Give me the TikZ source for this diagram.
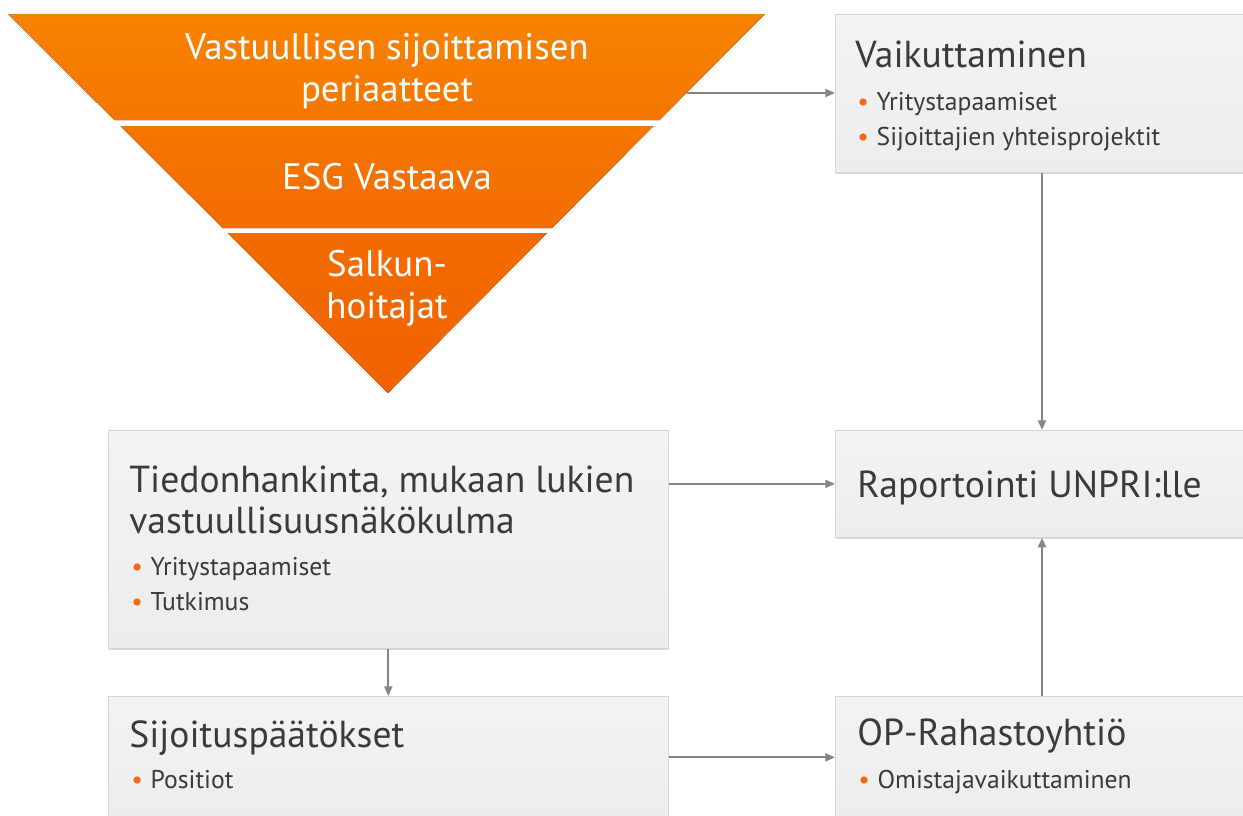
\documentclass[tikz,border=0pt]{standalone}
\usepackage{fontspec}
\setmainfont{PT Sans}
\usetikzlibrary{arrows.meta,shadows}

\definecolor{ortop}{HTML}{F78300}
\definecolor{ormid}{HTML}{F57600}
\definecolor{orlow}{HTML}{F36C00}
\definecolor{orbot}{HTML}{F06200}
\definecolor{boxtop}{HTML}{F3F3F3}
\definecolor{boxbot}{HTML}{EDEDED}
\definecolor{boxline}{HTML}{D6D6D6}
\definecolor{txt}{HTML}{3A3A3A}
\definecolor{arrc}{HTML}{858585}
\definecolor{dotc}{HTML}{F26A10}

\newcommand\blt{\makebox[11pt][l]{\textcolor{dotc}{\textbullet}}}

\begin{document}
\begin{tikzpicture}[
x=0.02cm,y=-0.02cm,
box/.style={rectangle,draw=boxline,top color=boxtop,bottom color=boxbot,anchor=north west,inner sep=0pt,
  drop shadow={shadow xshift=0.5pt,shadow yshift=-1.2pt,opacity=0.3}},
title/.style={anchor=base west,inner sep=0pt,text=txt,font=\fontsize{21.4}{24}\selectfont},
item/.style={anchor=base west,inner sep=0pt,text=txt,font=\fontsize{14.6}{17}\selectfont},
level/.style={text=white,align=center,inner sep=0pt,font=\fontsize{21}{24}\selectfont},
channel/.style={draw=arrc,line width=1.2pt,-{Triangle[length=5.5pt,width=4.5pt]}}
]
\useasboundingbox (0,0) rectangle (1243,815);

% Inverted triangle in three bands
\fill[top color=ortop,bottom color=ormid] (8,14) -- (765,14) -- (659.6,120) -- (114.3,120) -- cycle;
\fill[top color=ormid,bottom color=orlow] (120.3,126) -- (653.6,126) -- (552.1,228) -- (222.6,228) -- cycle;
\fill[top color=orlow,bottom color=orbot] (227.6,233) -- (547.2,233) -- (388,393) -- cycle;

\node [level] (principles) at (387,71) {Vastuullisen sijoittamisen\\periaatteet};
\node [level] (esg) at (387,177) {ESG Vastaava};
\node [level] (managers) at (387,288) {Salkun-\\hoitajat};

% Boxes
\node [box,minimum width=8.6cm,minimum height=3.16cm] (vaik) at (835,14) {};
\node [box,minimum width=8.6cm,minimum height=2.14cm] (rap) at (835,430) {};
\node [box,minimum width=8.6cm,minimum height=2.44cm] (oprah) at (835,696) {};
\node [box,minimum width=11.2cm,minimum height=4.36cm] (tied) at (108,430) {};
\node [box,minimum width=11.2cm,minimum height=2.44cm] (sijp) at (108,696) {};

% Box texts
\node [title] (vaik-t) at (855,67) {Vaikuttaminen};
\node [item] (vaik-1) at (857,110) {\blt Yritystapaamiset};
\node [item] (vaik-2) at (857,145) {\blt Sijoittajien yhteisprojektit};

\node [title] (rap-t) at (857,497) {Raportointi UNPRI:lle};

\node [title] (oprah-t) at (857,745) {OP-Rahastoyhtiö};
\node [item] (oprah-1) at (858,788) {\blt Omistajavaikuttaminen};

\node [title] (tied-t1) at (129,492) {Tiedonhankinta, mukaan lukien};
\node [title] (tied-t2) at (129,533) {vastuullisuusnäkökulma};
\node [item] (tied-1) at (131,575) {\blt Yritystapaamiset};
\node [item] (tied-2) at (131,610) {\blt Tutkimus};

\node [title] (sijp-t) at (129,747) {Sijoituspäätökset};
\node [item] (sijp-1) at (131,788) {\blt Positiot};

% Channels
\coordinate (tri-e) at (687,93);
\coordinate (col) at (1042,0);
\draw [channel] (tri-e) to (tri-e -| vaik.west);
\draw [channel] (vaik.south -| col) to (rap.north -| col);
\draw [channel] (oprah.north -| col) to (rap.south -| col);
\draw [channel] (tied.east |- rap.west) to (rap.west);
\draw [channel] (tied.south) to (sijp.north);
\draw [channel] (sijp.east) to (oprah.west |- sijp.east);
\end{tikzpicture}
\end{document}
